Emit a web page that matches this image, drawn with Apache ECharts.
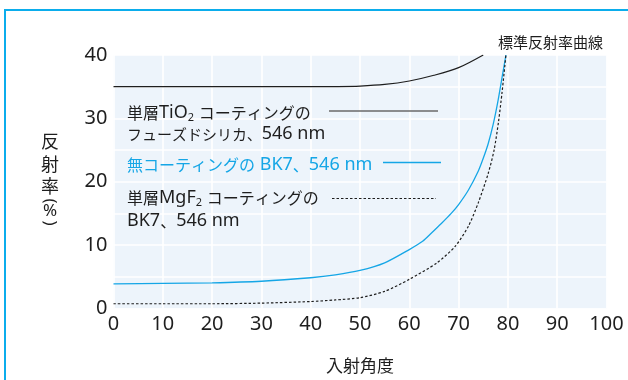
<!DOCTYPE html>
<html>
<head>
<meta charset="utf-8">
<script src="https://cdn.jsdelivr.net/npm/echarts@6/dist/echarts.min.js"></script>
<style>
  html, body { margin: 0; padding: 0; background: #ffffff; }
  #chart { width: 628px; height: 380px; }
</style>
</head>
<body>
<div id="chart"></div>
<script>
// Reflectance (%) versus angle of incidence (deg)
const angleTicks = [0, 10, 20, 30, 40, 50, 60, 70, 80, 90, 100];
const reflectTicks = [0, 10, 20, 30, 40];

// Single-layer TiO2 on fused silica, 546 nm
const tio2Angle = [0, 10, 20, 30, 40, 45, 50, 55, 60, 65, 70, 75];
const tio2Refl  = [35, 35, 35, 35, 35, 35.02, 35.1, 35.35, 35.9, 36.8, 38.0, 40.0];

// Uncoated BK7, 546 nm
const bk7Angle = [0, 10, 20, 30, 40, 45, 50, 55, 60, 62.7, 64.5, 66.5, 68.5, 70, 72, 74, 75, 76, 77, 78, 79, 79.6];
const bk7Refl  = [3.9, 3.95, 4.05, 4.3, 4.85, 5.3, 6.0, 7.2, 9.3, 10.6, 11.9, 13.4, 15.0, 16.4, 18.7, 21.7, 23.7, 26.0, 29.0, 32.8, 37.3, 40.0];

// Single-layer MgF2 on BK7, 546 nm
const mgf2Angle = [0, 10, 20, 30, 40, 45, 50, 55, 60, 65.6, 69.3, 72, 74, 76, 77.2, 78.1, 78.8, 79.6];
const mgf2Refl  = [0.75, 0.75, 0.75, 0.85, 1.1, 1.35, 1.7, 2.7, 4.6, 7.2, 9.8, 13.0, 16.7, 21.3, 25.0, 29.5, 34.0, 40.0];

const pair = (xs, ys) => xs.map((x, i) => [x, ys[i]]);

const CJK = '"Noto Sans CJK JP", sans-serif';
const LAT = '"Noto Sans", "Noto Sans CJK JP", sans-serif';
const BLUE = '#15a6e6';
const INK = '#1e1e1e';

// rich-text styles for the in-plot notes: kana/kanji, latin, subscript
function noteStyles(color) {
  return {
    c: { fontSize: 16, fontFamily: CJK, fill: color, lineHeight: 20 },
    k: { fontSize: 15, fontFamily: CJK, fill: color, lineHeight: 20 },
    l: { fontSize: 18, fontFamily: LAT, fill: color, lineHeight: 20 },
    s: { fontSize: 11, fontFamily: LAT, fill: color, lineHeight: 11, verticalAlign: 'bottom', padding: [8, 0, 0, 0] }
  };
}
function note(x, y, text, color) {
  return { type: 'text', x: x, y: y, z: 100,
    style: { text: text, fill: color, textVerticalAlign: 'middle', rich: noteStyles(color) } };
}
function plain(x, y, text, font, extra) {
  return Object.assign({ type: 'text', x: x, y: y, z: 100,
    style: { text: text, font: font, fill: INK, textAlign: 'center', textVerticalAlign: 'middle' } }, extra || {});
}

const chart = echarts.init(document.getElementById('chart'), null, { renderer: 'canvas' });

const option = {
  animation: false,
  backgroundColor: '#ffffff',
  textStyle: { fontFamily: LAT },
  grid: {
    left: 113.5, right: 21.5, top: 55, bottom: 71.5,
    show: true, backgroundColor: '#edf4fb', borderWidth: 0
  },
  xAxis: {
    type: 'value', min: angleTicks[0], max: angleTicks[angleTicks.length - 1], interval: 10,
    axisLine: { show: false }, axisTick: { show: false },
    axisLabel: { color: INK, fontSize: 20, margin: 6, fontFamily: LAT },
    splitLine: { show: true, lineStyle: { color: '#ffffff', width: 1.6 } }
  },
  yAxis: {
    type: 'value', min: reflectTicks[0], max: reflectTicks[reflectTicks.length - 1], interval: 5,
    axisLine: { show: false }, axisTick: { show: false },
    axisLabel: {
      color: INK, fontSize: 20, margin: 6, fontFamily: LAT,
      formatter: v => (reflectTicks.includes(v) ? String(v) : '')
    },
    splitLine: { show: true, lineStyle: { color: '#ffffff', width: 1.6 } }
  },
  series: [
    {
      name: 'TiO2', type: 'line', data: pair(tio2Angle, tio2Refl),
      smooth: 0.3, showSymbol: false, clip: true,
      lineStyle: { color: INK, width: 1.2 }
    },
    {
      name: 'BK7', type: 'line', data: pair(bk7Angle, bk7Refl),
      smooth: 0.25, showSymbol: false, clip: true,
      lineStyle: { color: BLUE, width: 1.3 }
    },
    {
      name: 'MgF2', type: 'line', data: pair(mgf2Angle, mgf2Refl),
      smooth: 0.25, showSymbol: false, clip: true,
      lineStyle: { color: INK, width: 1.2, type: [2.5, 2] }
    }
  ],
  graphic: [
    // frame
    { type: 'rect', silent: true, z: 100,
      shape: { x: 5, y: 10, width: 700, height: 500 },
      style: { fill: 'none', stroke: '#0badec', lineWidth: 2 } },
    // title
    { type: 'text', x: 603, y: 42, z: 100,
      style: { text: '標準反射率曲線', font: '15px ' + CJK, fill: INK,
        textAlign: 'right', textVerticalAlign: 'middle' } },
    // x axis name
    plain(360, 366, '入射角度', '17px ' + CJK),
    // y axis name, set vertically
    plain(50, 141.5, '反', '18px ' + CJK),
    plain(50, 164.5, '射', '18px ' + CJK),
    plain(50, 186.5, '率', '18px ' + CJK),
    plain(50, 201, '(', '17px ' + LAT, { rotation: -Math.PI / 2 }),
    plain(50, 211, '%', '17px ' + LAT),
    plain(50, 223, ')', '17px ' + LAT, { rotation: -Math.PI / 2 }),
    // note: TiO2
    note(127, 113, '{c|単層}{l|TiO}{s|2}{l| }{c|コーティングの}', INK),
    note(127, 134, '{k|フューズドシリカ、}{l|546 nm}', INK),
    { type: 'line', z: 100, shape: { x1: 329, y1: 111, x2: 438, y2: 111 },
      style: { stroke: '#6a6a6a', lineWidth: 1.7 } },
    // note: uncoated BK7
    note(127, 165, '{c|無コーティングの}{l| BK7}{c|、}{l|546 nm}', BLUE),
    { type: 'line', z: 100, shape: { x1: 383, y1: 162.5, x2: 441, y2: 162.5 },
      style: { stroke: BLUE, lineWidth: 1.3 } },
    // note: MgF2
    note(127, 198, '{c|単層}{l|MgF}{s|2}{l| }{c|コーティングの}', INK),
    note(127, 221, '{l|BK7}{c|、}{l|546 nm}', INK),
    { type: 'line', z: 100, shape: { x1: 332, y1: 198.5, x2: 436, y2: 198.5 },
      style: { stroke: INK, lineWidth: 1.1, lineDash: [2.5, 2] } }
  ]
};

chart.setOption(option);
</script>
</body>
</html>
